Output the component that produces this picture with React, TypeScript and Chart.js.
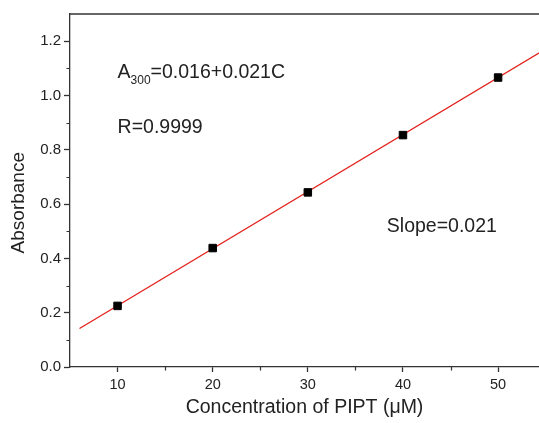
import React, { useEffect, useRef } from "react";
import { Chart, registerables } from "chart.js";

Chart.register(...registerables);

const concentrations = [10, 20, 30, 40, 50];
const absorbance = [0.225, 0.438, 0.643, 0.854, 1.066];
const fitX = [6, 56];
const fitY = [0.142, 1.192];
const xTickValues = [10, 20, 30, 40, 50];
const xMinorTicks = [15, 25, 35, 45];
const yTickValues = [0, 0.2, 0.4, 0.6, 0.8, 1.0, 1.2];
const yMinorTicks = [0.1, 0.3, 0.5, 0.7, 0.9, 1.1];

const FONT = "'Liberation Sans', Arial, sans-serif";
const AXIS = "#333333";
const TEXT = "#222222";

const decorPlugin = {
  id: "decor",
  afterDraw(chart: any) {
    const { ctx, chartArea, scales } = chart;
    const xs = scales.x;
    const ys = scales.y;
    ctx.save();
    // top border
    ctx.strokeStyle = AXIS;
    ctx.lineWidth = 1.3;
    ctx.beginPath();
    ctx.moveTo(chartArea.left, chartArea.top);
    ctx.lineTo(chartArea.right, chartArea.top);
    ctx.stroke();
    // minor ticks
    ctx.lineWidth = 1.2;
    ctx.beginPath();
    xMinorTicks.forEach((v) => {
      const px = Math.round(xs.getPixelForValue(v)) + 0.5;
      ctx.moveTo(px, chartArea.bottom);
      ctx.lineTo(px, chartArea.bottom + 3.5);
    });
    yMinorTicks.forEach((v) => {
      const py = Math.round(ys.getPixelForValue(v)) + 0.5;
      ctx.moveTo(chartArea.left, py);
      ctx.lineTo(chartArea.left - 3.5, py);
    });
    ctx.stroke();
    // y axis title
    ctx.fillStyle = TEXT;
    ctx.save();
    ctx.translate(chartArea.left - 51, ys.getPixelForValue(0.605));
    ctx.rotate(-Math.PI / 2);
    ctx.font = `19px ${FONT}`;
    ctx.textAlign = "center";
    ctx.textBaseline = "middle";
    ctx.fillText("Absorbance", 0, 0);
    ctx.restore();
    // annotations
    ctx.textBaseline = "alphabetic";
    ctx.textAlign = "left";
    const ax = xs.getPixelForValue(10);
    const ay = ys.getPixelForValue(1.064);
    ctx.font = `19.5px ${FONT}`;
    ctx.fillText("A", ax, ay);
    const aw = ctx.measureText("A").width;
    ctx.font = `12px ${FONT}`;
    ctx.fillText("300", ax + aw, ay + 6);
    const sw = ctx.measureText("300").width;
    ctx.font = `19.5px ${FONT}`;
    ctx.fillText("=0.016+0.021C", ax + aw + sw, ay);
    ctx.fillText("R=0.9999", ax, ys.getPixelForValue(0.862));
    ctx.fillText("Slope=0.021", xs.getPixelForValue(38.3), ys.getPixelForValue(0.497));
    ctx.restore();
  },
};

export default function App() {
  const ref = useRef<HTMLCanvasElement>(null);
  useEffect(() => {
    if (!ref.current) return;
    const chart = new Chart(ref.current, {
      type: "scatter",
      data: {
        datasets: [
          {
            label: "data",
            data: concentrations.map((c, i) => ({ x: c, y: absorbance[i] })),
            pointStyle: "rect",
            pointRadius: 5.3,
            pointBackgroundColor: "#000000",
            pointBorderColor: "#000000",
            pointBorderWidth: 1,
            showLine: false,
          },
          {
            label: "fit",
            data: fitX.map((x, i) => ({ x, y: fitY[i] })),
            showLine: true,
            borderColor: "#e3201b",
            borderWidth: 1.3,
            pointRadius: 0,
            fill: false,
          },
        ],
      },
      options: {
        responsive: false,
        animation: false,
        layout: { autoPadding: false, padding: { left: 0, right: 0, top: 14, bottom: 0 } },
        plugins: { legend: { display: false }, tooltip: { enabled: false } },
        scales: {
          x: {
            type: "linear",
            min: 5,
            max: 54.3,
            afterBuildTicks: (s: any) => {
              s.ticks = xTickValues.map((v) => ({ value: v }));
            },
            afterFit: (s: any) => {
              s.height = 56;
              s.paddingLeft = 0;
              s.paddingRight = 0;
            },
            grid: {
              display: true,
              drawOnChartArea: false,
              drawTicks: true,
              tickLength: 5,
              tickColor: AXIS,
              tickWidth: 1.3,
            },
            border: { display: true, color: AXIS, width: 1.3 },
            ticks: {
              color: TEXT,
              font: { family: FONT, size: 14.5 },
              padding: 4,
              maxRotation: 0,
              callback: (v: any) => String(v),
            },
            title: {
              display: true,
              text: "Concentration of PIPT (\u03bcM)",
              color: TEXT,
              font: { family: FONT, size: 19.5 },
              padding: { top: 0, bottom: 3.5 },
            },
          },
          y: {
            type: "linear",
            min: 0,
            max: 1.3,
            afterBuildTicks: (s: any) => {
              s.ticks = yTickValues.map((v) => ({ value: v }));
            },
            afterFit: (s: any) => {
              s.width = 70;
              s.paddingTop = 0;
              s.paddingBottom = 0;
            },
            grid: {
              display: true,
              drawOnChartArea: false,
              drawTicks: true,
              tickLength: 6,
              tickColor: AXIS,
              tickWidth: 1.3,
            },
            border: { display: true, color: AXIS, width: 1.3 },
            ticks: {
              color: TEXT,
              font: { family: FONT, size: 15 },
              padding: 3,
              callback: (v: any) => Number(v).toFixed(1),
            },
            title: { display: false },
          },
        },
      },
      plugins: [decorPlugin],
    });
    return () => chart.destroy();
  }, []);
  return (
    <div style={{ position: "fixed", left: 0, top: 0, width: 539, height: 423, background: "#fff" }}>
      <canvas ref={ref} width={539} height={423} style={{ display: "block" }} />
    </div>
  );
}
